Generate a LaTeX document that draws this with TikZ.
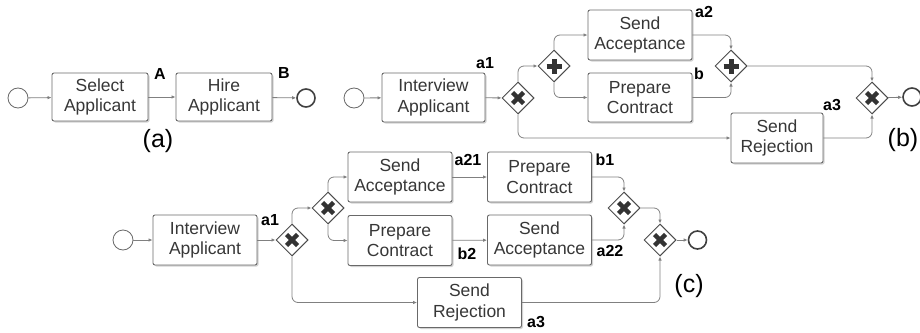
\documentclass[tikz,border=0pt]{standalone}
\usepackage{fontspec}
\setmainfont{Liberation Sans}
\definecolor{bpline}{RGB}{128,128,128}
\definecolor{bpbox}{RGB}{105,105,105}
\definecolor{bptext}{RGB}{55,55,55}
\usetikzlibrary{arrows.meta,positioning,shapes.geometric,shadows}

\begin{document}
\begin{tikzpicture}[
  x=1pt,y=-1pt,
  taskbox/.style={draw=bpbox,fill=white,rounded corners=2pt,line width=0.9pt,
                  minimum width=104pt,minimum height=50pt,align=center,inner sep=0pt,
                  text=bptext,font=\fontsize{17.5}{20.5}\selectfont,
                  drop shadow={shadow xshift=1.5pt,shadow yshift=-1.5pt,fill=black!35,opacity=0.5}},
  startev/.style={circle,draw=bpbox,fill=white,line width=0.8pt,minimum size=20pt,inner sep=0pt},
  endev/.style={circle,draw=black!75,fill=white,line width=1.6pt,minimum size=18pt,inner sep=0pt},
  gate/.style={diamond,draw=black!70,fill=white,line width=1pt,
               minimum width=32pt,minimum height=32pt,inner sep=0pt},
  xgate/.style={gate,path picture={
      \draw[line width=4.5pt,black!80]
        ([shift={(-5.5pt,-5.5pt)}]path picture bounding box.center) --
        ([shift={(5.5pt,5.5pt)}]path picture bounding box.center);
      \draw[line width=4.5pt,black!80]
        ([shift={(-5.5pt,5.5pt)}]path picture bounding box.center) --
        ([shift={(5.5pt,-5.5pt)}]path picture bounding box.center);}},
  pgate/.style={gate,path picture={
      \draw[line width=5pt,black!80]
        ([shift={(-7.5pt,0pt)}]path picture bounding box.center) --
        ([shift={(7.5pt,0pt)}]path picture bounding box.center);
      \draw[line width=5pt,black!80]
        ([shift={(0pt,-7.5pt)}]path picture bounding box.center) --
        ([shift={(0pt,7.5pt)}]path picture bounding box.center);}},
  flow/.style={draw=bpline,line width=0.8pt,rounded corners=6pt,
               -{Latex[length=4pt,width=3.5pt]}},
  lbl/.style={font=\bfseries\fontsize{16}{16}\selectfont},
  figlbl/.style={font=\fontsize{25}{26}\selectfont},
]
  \path[use as bounding box,clip] (0,0) rectangle (920,332);

  % (a) sequential process
  \node[startev] (startA) at (18,98) {};
  \node[taskbox,minimum width=96pt,minimum height=48pt] (selA) at (100,97) {Select\\Applicant};
  \node[taskbox,minimum width=96pt,minimum height=48pt] (hireA) at (224,97) {Hire\\Applicant};
  \node[endev] (endA) at (306,98) {};
  \node[lbl] (lblA) at (160,74) {A};
  \node[lbl] (lblB) at (284,73) {B};
  \node[figlbl] (capA) at (158,141) {(a)};

  \draw[flow] (startA) -- (selA);
  \draw[flow] (selA) -- (hireA);
  \draw[flow] (hireA) -- (endA);

  % (b) parallel branch
  \node[startev] (startB) at (354,98) {};
  \node[taskbox,minimum width=103pt,minimum height=49pt] (intB) at (433.5,97.5) {Interview\\Applicant};
  \node[xgate] (xsB) at (518,98) {};
  \node[pgate] (psB) at (554,66) {};
  \node[taskbox] (accB) at (640,35) {Send\\Acceptance};
  \node[taskbox,minimum height=49pt] (prepB) at (640,97.5) {Prepare\\Contract};
  \node[pgate] (pjB) at (731,66) {};
  \node[taskbox,minimum width=92pt] (rejB) at (777,138) {Send\\Rejection};
  \node[xgate] (xjB) at (872,98) {};
  \node[endev] (endB) at (912,97) {};
  \node[lbl] (lblA1b) at (485,63) {a1};
  \node[lbl] (lblA2b) at (704,12) {a2};
  \node[lbl] (lblBb) at (699,74) {b};
  \node[lbl] (lblA3b) at (832,105) {a3};
  \node[figlbl] (capB) at (903,140) {(b)};

  \draw[flow] (startB) -- (intB);
  \draw[flow] (intB) -- (xsB);
  \draw[flow] (xsB.north) |- (psB.west);
  \draw[flow] (psB.north) |- (accB.west);
  \draw[flow] (psB.south) |- (prepB.west);
  \draw[flow] (accB.east) -| (pjB.north);
  \draw[flow] (prepB.east) -| (pjB.south);
  \draw[flow] (pjB.east) -| (xjB.north);
  \draw[flow] (xsB.south) |- (rejB.west);
  \draw[flow] (rejB.east) -| (xjB.south);
  \draw[flow] (xjB) -- (endB);

  % (c) two orders
  \node[startev] (startC) at (123,240) {};
  \node[taskbox] (intC) at (205,240) {Interview\\Applicant};
  \node[xgate] (xs1C) at (292,240) {};
  \node[xgate] (xs2C) at (328,208) {};
  \node[taskbox] (acc1C) at (400,177) {Send\\Acceptance};
  \node[taskbox] (prep1C) at (539.5,177) {Prepare\\Contract};
  \node[taskbox] (prep2C) at (400,240.5) {Prepare\\Contract};
  \node[taskbox] (acc2C) at (539.5,240) {Send\\Acceptance};
  \node[xgate] (xj1C) at (624,208) {};
  \node[xgate] (xj2C) at (660,240) {};
  \node[endev] (endC) at (697.5,240) {};
  \node[taskbox] (rejC) at (469.5,302.5) {Send\\Rejection};
  \node[lbl] (lblA1c) at (270,220) {a1};
  \node[lbl] (lblA21c) at (468,160) {a21};
  \node[lbl] (lblB1c) at (605,160) {b1};
  \node[lbl] (lblB2c) at (467,254) {b2};
  \node[lbl] (lblA22c) at (610,251) {a22};
  \node[lbl] (lblA3c) at (536,322) {a3};
  \node[figlbl] (capC) at (689,286) {(c)};

  \draw[flow] (startC) -- (intC);
  \draw[flow] (intC) -- (xs1C);
  \draw[flow] (xs1C.north) |- (xs2C.west);
  \draw[flow] (xs2C.north) |- (acc1C.west);
  \draw[flow] (xs2C.south) |- (prep2C.west);
  \draw[flow] (acc1C) -- (prep1C);
  \draw[flow] (prep2C) -- (acc2C);
  \draw[flow] (prep1C.east) -| (xj1C.north);
  \draw[flow] (acc2C.east) -| (xj1C.south);
  \draw[flow] (xj1C.east) -| (xj2C.north);
  \draw[flow] (xs1C.south) |- (rejC.west);
  \draw[flow] (rejC.east) -| (xj2C.south);
  \draw[flow] (xj2C) -- (endC);
\end{tikzpicture}
\end{document}
